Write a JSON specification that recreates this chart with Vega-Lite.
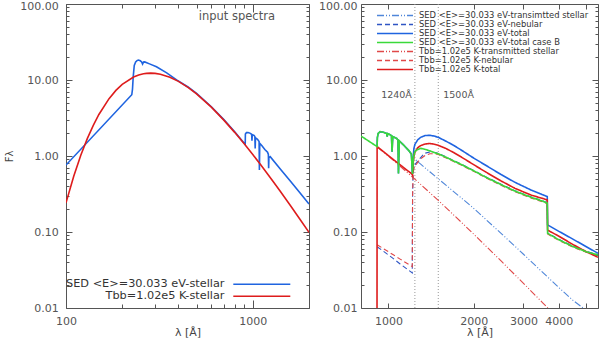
{
"$schema": "https://vega.github.io/schema/vega-lite/v6.json",
"background": "white",
"padding": {"left": 4, "top": 0, "right": 0, "bottom": 0},
"bounds": "flush",
"spacing": 52,
"config": {
  "view": {"stroke": null},
  "font": "DejaVu Sans",
  "axis": {"grid": false, "domainColor": "#555", "tickColor": "#555", "labelColor": "#555", "titleColor": "#444", "labelFont": "DejaVu Sans", "labelFontSize": 11, "titleFont": "DejaVu Sans", "titleFontWeight": "normal", "titleFontSize": 11, "labelOverlap": false, "labelFlush": false, "labelBound": false, "domainWidth": 1, "tickWidth": 1},
  "legend": {"labelFont": "DejaVu Sans", "labelColor": "#333"}
},
"datasets": {
  "note": [{"t": "input spectra"}],
  "vlines": [{"l": 1240, "t": "1240Å"}, {"l": 1500, "t": "1500Å"}],
  "left": [
    {"s":"SED <E>=30.033 eV-stellar","l":100,"f":0.76},
    {"s":"SED <E>=30.033 eV-stellar","l":225,"f":6.4},
    {"s":"SED <E>=30.033 eV-stellar","l":227,"f":7.6},
    {"s":"SED <E>=30.033 eV-stellar","l":229,"f":11},
    {"s":"SED <E>=30.033 eV-stellar","l":232,"f":15.5},
    {"s":"SED <E>=30.033 eV-stellar","l":236,"f":17.3},
    {"s":"SED <E>=30.033 eV-stellar","l":240,"f":18},
    {"s":"SED <E>=30.033 eV-stellar","l":244,"f":18.3},
    {"s":"SED <E>=30.033 eV-stellar","l":250,"f":17.9},
    {"s":"SED <E>=30.033 eV-stellar","l":254,"f":17.3},
    {"s":"SED <E>=30.033 eV-stellar","l":257,"f":16.2},
    {"s":"SED <E>=30.033 eV-stellar","l":260,"f":17.2},
    {"s":"SED <E>=30.033 eV-stellar","l":264,"f":17.3},
    {"s":"SED <E>=30.033 eV-stellar","l":280,"f":16.3},
    {"s":"SED <E>=30.033 eV-stellar","l":305,"f":14.9},
    {"s":"SED <E>=30.033 eV-stellar","l":346,"f":12.4},
    {"s":"SED <E>=30.033 eV-stellar","l":391,"f":10.05},
    {"s":"SED <E>=30.033 eV-stellar","l":450,"f":8.1},
    {"s":"SED <E>=30.033 eV-stellar","l":500,"f":6.65},
    {"s":"SED <E>=30.033 eV-stellar","l":600,"f":4.45},
    {"s":"SED <E>=30.033 eV-stellar","l":700,"f":3.01},
    {"s":"SED <E>=30.033 eV-stellar","l":800,"f":2.08},
    {"s":"SED <E>=30.033 eV-stellar","l":900,"f":1.47},
    {"s":"SED <E>=30.033 eV-stellar","l":911,"f":1.42},
    {"s":"SED <E>=30.033 eV-stellar","l":913,"f":1.95},
    {"s":"SED <E>=30.033 eV-stellar","l":925,"f":2.03},
    {"s":"SED <E>=30.033 eV-stellar","l":944,"f":2.04},
    {"s":"SED <E>=30.033 eV-stellar","l":965,"f":2.0},
    {"s":"SED <E>=30.033 eV-stellar","l":986,"f":1.93},
    {"s":"SED <E>=30.033 eV-stellar","l":990,"f":1.59},
    {"s":"SED <E>=30.033 eV-stellar","l":994,"f":1.91},
    {"s":"SED <E>=30.033 eV-stellar","l":1015,"f":1.87},
    {"s":"SED <E>=30.033 eV-stellar","l":1026,"f":1.8},
    {"s":"SED <E>=30.033 eV-stellar","l":1030,"f":1.26},
    {"s":"SED <E>=30.033 eV-stellar","l":1034,"f":1.74},
    {"s":"SED <E>=30.033 eV-stellar","l":1060,"f":1.66},
    {"s":"SED <E>=30.033 eV-stellar","l":1081,"f":1.55},
    {"s":"SED <E>=30.033 eV-stellar","l":1085,"f":0.655},
    {"s":"SED <E>=30.033 eV-stellar","l":1090,"f":1.47},
    {"s":"SED <E>=30.033 eV-stellar","l":1120,"f":1.36},
    {"s":"SED <E>=30.033 eV-stellar","l":1160,"f":1.22},
    {"s":"SED <E>=30.033 eV-stellar","l":1200,"f":1.12},
    {"s":"SED <E>=30.033 eV-stellar","l":1212,"f":1.05},
    {"s":"SED <E>=30.033 eV-stellar","l":1216,"f":0.69},
    {"s":"SED <E>=30.033 eV-stellar","l":1220,"f":0.95},
    {"s":"SED <E>=30.033 eV-stellar","l":1240,"f":0.98},
    {"s":"SED <E>=30.033 eV-stellar","l":1400,"f":0.68},
    {"s":"SED <E>=30.033 eV-stellar","l":1600,"f":0.457},
    {"s":"SED <E>=30.033 eV-stellar","l":1783,"f":0.33},
    {"s":"SED <E>=30.033 eV-stellar","l":2000,"f":0.234},
    {"s":"Tbb=1.02e5 K-stellar","l":100,"f":0.242},
    {"s":"Tbb=1.02e5 K-stellar","l":110,"f":0.542},
    {"s":"Tbb=1.02e5 K-stellar","l":120,"f":1.022},
    {"s":"Tbb=1.02e5 K-stellar","l":130,"f":1.692},
    {"s":"Tbb=1.02e5 K-stellar","l":140,"f":2.535},
    {"s":"Tbb=1.02e5 K-stellar","l":150,"f":3.516},
    {"s":"Tbb=1.02e5 K-stellar","l":170,"f":5.684},
    {"s":"Tbb=1.02e5 K-stellar","l":185,"f":7.3},
    {"s":"Tbb=1.02e5 K-stellar","l":200,"f":8.765},
    {"s":"Tbb=1.02e5 K-stellar","l":230,"f":10.95},
    {"s":"Tbb=1.02e5 K-stellar","l":245,"f":11.63},
    {"s":"Tbb=1.02e5 K-stellar","l":260,"f":12.07},
    {"s":"Tbb=1.02e5 K-stellar","l":270,"f":12.22},
    {"s":"Tbb=1.02e5 K-stellar","l":284,"f":12.3},
    {"s":"Tbb=1.02e5 K-stellar","l":300,"f":12.22},
    {"s":"Tbb=1.02e5 K-stellar","l":320,"f":11.91},
    {"s":"Tbb=1.02e5 K-stellar","l":360,"f":10.87},
    {"s":"Tbb=1.02e5 K-stellar","l":400,"f":9.59},
    {"s":"Tbb=1.02e5 K-stellar","l":450,"f":7.99},
    {"s":"Tbb=1.02e5 K-stellar","l":500,"f":6.563},
    {"s":"Tbb=1.02e5 K-stellar","l":600,"f":4.389},
    {"s":"Tbb=1.02e5 K-stellar","l":700,"f":2.966},
    {"s":"Tbb=1.02e5 K-stellar","l":800,"f":2.047},
    {"s":"Tbb=1.02e5 K-stellar","l":900,"f":1.447},
    {"s":"Tbb=1.02e5 K-stellar","l":1000,"f":1.046},
    {"s":"Tbb=1.02e5 K-stellar","l":1100,"f":0.772},
    {"s":"Tbb=1.02e5 K-stellar","l":1200,"f":0.5814},
    {"s":"Tbb=1.02e5 K-stellar","l":1300,"f":0.4454},
    {"s":"Tbb=1.02e5 K-stellar","l":1400,"f":0.3465},
    {"s":"Tbb=1.02e5 K-stellar","l":1600,"f":0.2184},
    {"s":"Tbb=1.02e5 K-stellar","l":1800,"f":0.1442},
    {"s":"Tbb=1.02e5 K-stellar","l":2000,"f":0.0988}
  ],
  "right": [
    {"s":"SED <E>=30.033 eV-transimtted stellar","l":912,"f":1.33},
    {"s":"SED <E>=30.033 eV-transimtted stellar","l":914,"f":1.75},
    {"s":"SED <E>=30.033 eV-transimtted stellar","l":920,"f":1.98},
    {"s":"SED <E>=30.033 eV-transimtted stellar","l":935,"f":2.09},
    {"s":"SED <E>=30.033 eV-transimtted stellar","l":960,"f":2.05},
    {"s":"SED <E>=30.033 eV-transimtted stellar","l":985,"f":1.98},
    {"s":"SED <E>=30.033 eV-transimtted stellar","l":990,"f":1.8},
    {"s":"SED <E>=30.033 eV-transimtted stellar","l":995,"f":1.97},
    {"s":"SED <E>=30.033 eV-transimtted stellar","l":1015,"f":1.9},
    {"s":"SED <E>=30.033 eV-transimtted stellar","l":1025,"f":1.85},
    {"s":"SED <E>=30.033 eV-transimtted stellar","l":1030,"f":1.14},
    {"s":"SED <E>=30.033 eV-transimtted stellar","l":1036,"f":1.8},
    {"s":"SED <E>=30.033 eV-transimtted stellar","l":1070,"f":1.7},
    {"s":"SED <E>=30.033 eV-transimtted stellar","l":1081,"f":1.62},
    {"s":"SED <E>=30.033 eV-transimtted stellar","l":1085,"f":0.59},
    {"s":"SED <E>=30.033 eV-transimtted stellar","l":1092,"f":1.58},
    {"s":"SED <E>=30.033 eV-transimtted stellar","l":1130,"f":1.4},
    {"s":"SED <E>=30.033 eV-transimtted stellar","l":1180,"f":1.18},
    {"s":"SED <E>=30.033 eV-transimtted stellar","l":1205,"f":1.06},
    {"s":"SED <E>=30.033 eV-transimtted stellar","l":1216,"f":0.58},
    {"s":"SED <E>=30.033 eV-transimtted stellar","l":1222,"f":0.8},
    {"s":"SED <E>=30.033 eV-transimtted stellar","l":1232,"f":0.92},
    {"s":"SED <E>=30.033 eV-transimtted stellar","l":1250,"f":0.9},
    {"s":"SED <E>=30.033 eV-transimtted stellar","l":1270,"f":0.84},
    {"s":"SED <E>=30.033 eV-transimtted stellar","l":1300,"f":0.78},
    {"s":"SED <E>=30.033 eV-transimtted stellar","l":1400,"f":0.62},
    {"s":"SED <E>=30.033 eV-transimtted stellar","l":1500,"f":0.5},
    {"s":"SED <E>=30.033 eV-transimtted stellar","l":1600,"f":0.41},
    {"s":"SED <E>=30.033 eV-transimtted stellar","l":1800,"f":0.285},
    {"s":"SED <E>=30.033 eV-transimtted stellar","l":2000,"f":0.205},
    {"s":"SED <E>=30.033 eV-transimtted stellar","l":2500,"f":0.096},
    {"s":"SED <E>=30.033 eV-transimtted stellar","l":3000,"f":0.051},
    {"s":"SED <E>=30.033 eV-transimtted stellar","l":3500,"f":0.0296},
    {"s":"SED <E>=30.033 eV-transimtted stellar","l":3933,"f":0.0197},
    {"s":"SED <E>=30.033 eV-transimtted stellar","l":4500,"f":0.0125},
    {"s":"SED <E>=30.033 eV-transimtted stellar","l":5000,"f":0.0093},
    {"s":"SED <E>=30.033 eV-transimtted stellar","l":5500,"f":0.007},
    {"s":"SED <E>=30.033 eV-nebular","l":912,"f":0.064},
    {"s":"SED <E>=30.033 eV-nebular","l":1000,"f":0.05},
    {"s":"SED <E>=30.033 eV-nebular","l":1100,"f":0.038},
    {"s":"SED <E>=30.033 eV-nebular","l":1214,"f":0.029},
    {"s":"SED <E>=30.033 eV-nebular","l":1217,"f":0.3},
    {"s":"SED <E>=30.033 eV-nebular","l":1222,"f":0.6},
    {"s":"SED <E>=30.033 eV-nebular","l":1229,"f":0.72},
    {"s":"SED <E>=30.033 eV-nebular","l":1250,"f":0.8},
    {"s":"SED <E>=30.033 eV-nebular","l":1270,"f":0.86},
    {"s":"SED <E>=30.033 eV-nebular","l":1300,"f":0.95},
    {"s":"SED <E>=30.033 eV-nebular","l":1342,"f":1.085},
    {"s":"SED <E>=30.033 eV-nebular","l":1400,"f":1.13},
    {"s":"SED <E>=30.033 eV-nebular","l":1450,"f":1.12},
    {"s":"SED <E>=30.033 eV-nebular","l":1500,"f":1.08},
    {"s":"SED <E>=30.033 eV-nebular","l":1600,"f":0.97},
    {"s":"SED <E>=30.033 eV-nebular","l":1700,"f":0.87},
    {"s":"SED <E>=30.033 eV-nebular","l":1800,"f":0.79},
    {"s":"SED <E>=30.033 eV-nebular","l":2000,"f":0.645},
    {"s":"SED <E>=30.033 eV-nebular","l":2200,"f":0.535},
    {"s":"SED <E>=30.033 eV-nebular","l":2500,"f":0.425},
    {"s":"SED <E>=30.033 eV-nebular","l":2800,"f":0.349},
    {"s":"SED <E>=30.033 eV-nebular","l":3200,"f":0.288},
    {"s":"SED <E>=30.033 eV-nebular","l":3500,"f":0.258},
    {"s":"SED <E>=30.033 eV-nebular","l":3640,"f":0.243},
    {"s":"SED <E>=30.033 eV-nebular","l":3650,"f":0.097},
    {"s":"SED <E>=30.033 eV-nebular","l":4000,"f":0.08},
    {"s":"SED <E>=30.033 eV-nebular","l":4500,"f":0.065},
    {"s":"SED <E>=30.033 eV-nebular","l":5000,"f":0.0555},
    {"s":"SED <E>=30.033 eV-nebular","l":5500,"f":0.0503},
    {"s":"Tbb=1.02e5 K-transmitted stellar","l":912,"f":1.32},
    {"s":"Tbb=1.02e5 K-transmitted stellar","l":1000,"f":0.994},
    {"s":"Tbb=1.02e5 K-transmitted stellar","l":1100,"f":0.734},
    {"s":"Tbb=1.02e5 K-transmitted stellar","l":1200,"f":0.552},
    {"s":"Tbb=1.02e5 K-transmitted stellar","l":1300,"f":0.423},
    {"s":"Tbb=1.02e5 K-transmitted stellar","l":1400,"f":0.329},
    {"s":"Tbb=1.02e5 K-transmitted stellar","l":1500,"f":0.26},
    {"s":"Tbb=1.02e5 K-transmitted stellar","l":1600,"f":0.2075},
    {"s":"Tbb=1.02e5 K-transmitted stellar","l":1800,"f":0.137},
    {"s":"Tbb=1.02e5 K-transmitted stellar","l":2000,"f":0.0939},
    {"s":"Tbb=1.02e5 K-transmitted stellar","l":2500,"f":0.0416},
    {"s":"Tbb=1.02e5 K-transmitted stellar","l":3000,"f":0.0211},
    {"s":"Tbb=1.02e5 K-transmitted stellar","l":3500,"f":0.0118},
    {"s":"Tbb=1.02e5 K-transmitted stellar","l":4000,"f":0.0071},
    {"s":"Tbb=1.02e5 K-nebular","l":912,"f":0.068},
    {"s":"Tbb=1.02e5 K-nebular","l":1000,"f":0.055},
    {"s":"Tbb=1.02e5 K-nebular","l":1100,"f":0.044},
    {"s":"Tbb=1.02e5 K-nebular","l":1214,"f":0.035},
    {"s":"Tbb=1.02e5 K-nebular","l":1217,"f":0.3},
    {"s":"Tbb=1.02e5 K-nebular","l":1222,"f":0.55},
    {"s":"Tbb=1.02e5 K-nebular","l":1229,"f":0.68},
    {"s":"Tbb=1.02e5 K-nebular","l":1250,"f":0.76},
    {"s":"Tbb=1.02e5 K-nebular","l":1270,"f":0.83},
    {"s":"Tbb=1.02e5 K-nebular","l":1300,"f":0.92},
    {"s":"Tbb=1.02e5 K-nebular","l":1350,"f":1.02},
    {"s":"Tbb=1.02e5 K-nebular","l":1400,"f":1.07},
    {"s":"Tbb=1.02e5 K-nebular","l":1450,"f":1.07},
    {"s":"Tbb=1.02e5 K-nebular","l":1500,"f":1.05},
    {"s":"Tbb=1.02e5 K-nebular","l":1600,"f":0.94},
    {"s":"Tbb=1.02e5 K-nebular","l":1700,"f":0.845},
    {"s":"Tbb=1.02e5 K-nebular","l":1800,"f":0.765},
    {"s":"Tbb=1.02e5 K-nebular","l":2000,"f":0.628},
    {"s":"Tbb=1.02e5 K-nebular","l":2200,"f":0.52},
    {"s":"Tbb=1.02e5 K-nebular","l":2500,"f":0.412},
    {"s":"Tbb=1.02e5 K-nebular","l":2800,"f":0.338},
    {"s":"Tbb=1.02e5 K-nebular","l":3200,"f":0.279},
    {"s":"Tbb=1.02e5 K-nebular","l":3500,"f":0.25},
    {"s":"Tbb=1.02e5 K-nebular","l":3640,"f":0.235},
    {"s":"Tbb=1.02e5 K-nebular","l":3650,"f":0.094},
    {"s":"Tbb=1.02e5 K-nebular","l":4000,"f":0.0775},
    {"s":"Tbb=1.02e5 K-nebular","l":4500,"f":0.0628},
    {"s":"Tbb=1.02e5 K-nebular","l":5000,"f":0.054},
    {"s":"Tbb=1.02e5 K-nebular","l":5500,"f":0.0488},
    {"s":"SED <E>=30.033 eV-total","l":912,"f":1.33},
    {"s":"SED <E>=30.033 eV-total","l":914,"f":1.75},
    {"s":"SED <E>=30.033 eV-total","l":920,"f":1.98},
    {"s":"SED <E>=30.033 eV-total","l":935,"f":2.09},
    {"s":"SED <E>=30.033 eV-total","l":960,"f":2.05},
    {"s":"SED <E>=30.033 eV-total","l":985,"f":1.98},
    {"s":"SED <E>=30.033 eV-total","l":990,"f":1.8},
    {"s":"SED <E>=30.033 eV-total","l":995,"f":1.97},
    {"s":"SED <E>=30.033 eV-total","l":1015,"f":1.9},
    {"s":"SED <E>=30.033 eV-total","l":1025,"f":1.85},
    {"s":"SED <E>=30.033 eV-total","l":1030,"f":1.14},
    {"s":"SED <E>=30.033 eV-total","l":1036,"f":1.8},
    {"s":"SED <E>=30.033 eV-total","l":1070,"f":1.7},
    {"s":"SED <E>=30.033 eV-total","l":1081,"f":1.62},
    {"s":"SED <E>=30.033 eV-total","l":1085,"f":0.59},
    {"s":"SED <E>=30.033 eV-total","l":1092,"f":1.58},
    {"s":"SED <E>=30.033 eV-total","l":1130,"f":1.4},
    {"s":"SED <E>=30.033 eV-total","l":1180,"f":1.18},
    {"s":"SED <E>=30.033 eV-total","l":1205,"f":1.06},
    {"s":"SED <E>=30.033 eV-total","l":1216,"f":0.58},
    {"s":"SED <E>=30.033 eV-total","l":1222,"f":0.9},
    {"s":"SED <E>=30.033 eV-total","l":1230,"f":1.25},
    {"s":"SED <E>=30.033 eV-total","l":1240,"f":1.42},
    {"s":"SED <E>=30.033 eV-total","l":1270,"f":1.64},
    {"s":"SED <E>=30.033 eV-total","l":1300,"f":1.76},
    {"s":"SED <E>=30.033 eV-total","l":1350,"f":1.86},
    {"s":"SED <E>=30.033 eV-total","l":1400,"f":1.87},
    {"s":"SED <E>=30.033 eV-total","l":1450,"f":1.83},
    {"s":"SED <E>=30.033 eV-total","l":1500,"f":1.76},
    {"s":"SED <E>=30.033 eV-total","l":1600,"f":1.56},
    {"s":"SED <E>=30.033 eV-total","l":1700,"f":1.38},
    {"s":"SED <E>=30.033 eV-total","l":1800,"f":1.21},
    {"s":"SED <E>=30.033 eV-total","l":2000,"f":0.94},
    {"s":"SED <E>=30.033 eV-total","l":2200,"f":0.76},
    {"s":"SED <E>=30.033 eV-total","l":2500,"f":0.57},
    {"s":"SED <E>=30.033 eV-total","l":2800,"f":0.45},
    {"s":"SED <E>=30.033 eV-total","l":3200,"f":0.355},
    {"s":"SED <E>=30.033 eV-total","l":3500,"f":0.31},
    {"s":"SED <E>=30.033 eV-total","l":3640,"f":0.292},
    {"s":"SED <E>=30.033 eV-total","l":3650,"f":0.124},
    {"s":"SED <E>=30.033 eV-total","l":4000,"f":0.102},
    {"s":"SED <E>=30.033 eV-total","l":4500,"f":0.08},
    {"s":"SED <E>=30.033 eV-total","l":5000,"f":0.064},
    {"s":"SED <E>=30.033 eV-total","l":5500,"f":0.0525},
    {"s":"Tbb=1.02e5 K-total","l":800,"f":0.001},
    {"s":"Tbb=1.02e5 K-total","l":911,"f":0.001},
    {"s":"Tbb=1.02e5 K-total","l":912,"f":1.33},
    {"s":"Tbb=1.02e5 K-total","l":1000,"f":1.01},
    {"s":"Tbb=1.02e5 K-total","l":1100,"f":0.765},
    {"s":"Tbb=1.02e5 K-total","l":1210,"f":0.58},
    {"s":"Tbb=1.02e5 K-total","l":1216,"f":0.56},
    {"s":"Tbb=1.02e5 K-total","l":1222,"f":0.78},
    {"s":"Tbb=1.02e5 K-total","l":1230,"f":1.0},
    {"s":"Tbb=1.02e5 K-total","l":1240,"f":1.12},
    {"s":"Tbb=1.02e5 K-total","l":1270,"f":1.29},
    {"s":"Tbb=1.02e5 K-total","l":1300,"f":1.37},
    {"s":"Tbb=1.02e5 K-total","l":1350,"f":1.44},
    {"s":"Tbb=1.02e5 K-total","l":1400,"f":1.46},
    {"s":"Tbb=1.02e5 K-total","l":1450,"f":1.43},
    {"s":"Tbb=1.02e5 K-total","l":1500,"f":1.38},
    {"s":"Tbb=1.02e5 K-total","l":1600,"f":1.25},
    {"s":"Tbb=1.02e5 K-total","l":1700,"f":1.11},
    {"s":"Tbb=1.02e5 K-total","l":1800,"f":0.98},
    {"s":"Tbb=1.02e5 K-total","l":2000,"f":0.77},
    {"s":"Tbb=1.02e5 K-total","l":2200,"f":0.62},
    {"s":"Tbb=1.02e5 K-total","l":2500,"f":0.47},
    {"s":"Tbb=1.02e5 K-total","l":2800,"f":0.375},
    {"s":"Tbb=1.02e5 K-total","l":3200,"f":0.305},
    {"s":"Tbb=1.02e5 K-total","l":3500,"f":0.277},
    {"s":"Tbb=1.02e5 K-total","l":3640,"f":0.264},
    {"s":"Tbb=1.02e5 K-total","l":3650,"f":0.106},
    {"s":"Tbb=1.02e5 K-total","l":4000,"f":0.088},
    {"s":"Tbb=1.02e5 K-total","l":4500,"f":0.068},
    {"s":"Tbb=1.02e5 K-total","l":5000,"f":0.055},
    {"s":"Tbb=1.02e5 K-total","l":5500,"f":0.0465},
    {"s":"SED <E>=30.033 eV-total case B","l":800,"f":1.83},
    {"s":"SED <E>=30.033 eV-total case B","l":912,"f":1.33},
    {"s":"SED <E>=30.033 eV-total case B","l":914,"f":1.75},
    {"s":"SED <E>=30.033 eV-total case B","l":920,"f":1.98},
    {"s":"SED <E>=30.033 eV-total case B","l":935,"f":2.09},
    {"s":"SED <E>=30.033 eV-total case B","l":960,"f":2.05},
    {"s":"SED <E>=30.033 eV-total case B","l":985,"f":1.98},
    {"s":"SED <E>=30.033 eV-total case B","l":990,"f":1.8},
    {"s":"SED <E>=30.033 eV-total case B","l":995,"f":1.97},
    {"s":"SED <E>=30.033 eV-total case B","l":1015,"f":1.9},
    {"s":"SED <E>=30.033 eV-total case B","l":1025,"f":1.85},
    {"s":"SED <E>=30.033 eV-total case B","l":1030,"f":1.14},
    {"s":"SED <E>=30.033 eV-total case B","l":1036,"f":1.8},
    {"s":"SED <E>=30.033 eV-total case B","l":1070,"f":1.7},
    {"s":"SED <E>=30.033 eV-total case B","l":1081,"f":1.62},
    {"s":"SED <E>=30.033 eV-total case B","l":1085,"f":0.59},
    {"s":"SED <E>=30.033 eV-total case B","l":1092,"f":1.58},
    {"s":"SED <E>=30.033 eV-total case B","l":1130,"f":1.4},
    {"s":"SED <E>=30.033 eV-total case B","l":1180,"f":1.18},
    {"s":"SED <E>=30.033 eV-total case B","l":1205,"f":1.06},
    {"s":"SED <E>=30.033 eV-total case B","l":1216,"f":0.58},
    {"s":"SED <E>=30.033 eV-total case B","l":1225,"f":0.95},
    {"s":"SED <E>=30.033 eV-total case B","l":1240,"f":1.15},
    {"s":"SED <E>=30.033 eV-total case B","l":1270,"f":1.22},
    {"s":"SED <E>=30.033 eV-total case B","l":1300,"f":1.26},
    {"s":"SED <E>=30.033 eV-total case B","l":1350,"f":1.22},
    {"s":"SED <E>=30.033 eV-total case B","l":1400,"f":1.17},
    {"s":"SED <E>=30.033 eV-total case B","l":1450,"f":1.11},
    {"s":"SED <E>=30.033 eV-total case B","l":1500,"f":1.07},
    {"s":"SED <E>=30.033 eV-total case B","l":1600,"f":0.96},
    {"s":"SED <E>=30.033 eV-total case B","l":1700,"f":0.86},
    {"s":"SED <E>=30.033 eV-total case B","l":1800,"f":0.78},
    {"s":"SED <E>=30.033 eV-total case B","l":2000,"f":0.64},
    {"s":"SED <E>=30.033 eV-total case B","l":2200,"f":0.53},
    {"s":"SED <E>=30.033 eV-total case B","l":2500,"f":0.42},
    {"s":"SED <E>=30.033 eV-total case B","l":2800,"f":0.345},
    {"s":"SED <E>=30.033 eV-total case B","l":3200,"f":0.285},
    {"s":"SED <E>=30.033 eV-total case B","l":3500,"f":0.255},
    {"s":"SED <E>=30.033 eV-total case B","l":3640,"f":0.24},
    {"s":"SED <E>=30.033 eV-total case B","l":3650,"f":0.096},
    {"s":"SED <E>=30.033 eV-total case B","l":4000,"f":0.079},
    {"s":"SED <E>=30.033 eV-total case B","l":4500,"f":0.064},
    {"s":"SED <E>=30.033 eV-total case B","l":5000,"f":0.055},
    {"s":"SED <E>=30.033 eV-total case B","l":5500,"f":0.0498}
  ]
},
"resolve": {"scale": {"color": "independent", "strokeDash": "independent"}},
"hconcat": [
  {
    "width": 243, "height": 304,
    "layer": [
      {
        "data": {"name": "left"},
        "mark": {"type": "line", "strokeWidth": 1.6, "clip": true},
        "encoding": {
          "x": {"field": "l", "type": "quantitative", "scale": {"type": "log", "domain": [100, 2000], "nice": false},
                "axis": {"orient": "bottom", "values": [100,200,300,400,500,600,700,800,900,1000,2000], "labelExpr": "(datum.value==100||datum.value==1000) ? format(datum.value,'d') : ''", "tickSize": {"condition": {"test": "datum.value==100||datum.value==1000", "value": -8}, "value": -4}, "labelPadding": 15, "title": "λ [Å]", "titlePadding": -4}},
          "y": {"field": "f", "type": "quantitative", "scale": {"type": "log", "domain": [0.01, 100], "nice": false},
                "axis": {"orient": "left", "values": [0.01,0.02,0.03,0.04,0.05,0.06,0.07,0.08,0.09,0.1,0.2,0.3,0.4,0.5,0.6,0.7,0.8,0.9,1,2,3,4,5,6,7,8,9,10,20,30,40,50,60,70,80,90,100], "labelExpr": "(datum.value==0.01||datum.value==0.1||datum.value==1||datum.value==10||datum.value==100) ? format(datum.value,'.2f') : ''", "tickSize": {"condition": {"test": "datum.value==0.01||datum.value==0.1||datum.value==1||datum.value==10||datum.value==100", "value": -6}, "value": -3}, "labelOffset": {"condition": {"test": "datum.value==100", "value": 2}, "value": 0}, "labelPadding": 13.7, "title": "Fλ", "titleFontSize": 10, "titleX": -52, "titleY": 152, "titleAngle": 270, "titleAlign": "center", "titleBaseline": "bottom"}},
          "color": {"field": "s", "type": "nominal", "scale": {"domain": ["SED <E>=30.033 eV-stellar", "Tbb=1.02e5 K-stellar"], "range": ["#1f64e0", "#de1c1c"]},
                    "legend": {"orient": "none", "legendX": 189.3, "legendY": 273.8, "title": null, "symbolType": "M-5,0H5", "symbolSize": 130, "symbolStrokeWidth": 1.5, "rowPadding": -5.6, "labelAlign": "right", "labelOffset": -43.8, "labelFontSize": 11.3, "labelColor": "#333", "padding": 0, "labelLimit": 300}}
        }
      },
      {
        "data": {"name": "left"},
        "mark": {"type": "line", "opacity": 0},
        "encoding": {
          "x": {"field": "l", "type": "quantitative", "scale": {"type": "log", "domain": [100, 2000], "nice": false},
                "axis": {"orient": "top", "values": [100,200,300,400,500,600,700,800,900,1000,2000], "labels": false, "tickSize": {"condition": {"test": "datum.value==100||datum.value==1000", "value": -8}, "value": -4}, "title": null}},
          "y": {"field": "f", "type": "quantitative", "scale": {"type": "log", "domain": [0.01, 100], "nice": false},
                "axis": {"orient": "right", "values": [0.01,0.02,0.03,0.04,0.05,0.06,0.07,0.08,0.09,0.1,0.2,0.3,0.4,0.5,0.6,0.7,0.8,0.9,1,2,3,4,5,6,7,8,9,10,20,30,40,50,60,70,80,90,100], "labels": false, "tickSize": {"condition": {"test": "datum.value==0.01||datum.value==0.1||datum.value==1||datum.value==10||datum.value==100", "value": -6}, "value": -3}, "title": null}},
          "detail": {"field": "s"}
        }
      },
      {
        "data": {"name": "note"},
        "mark": {"type": "text", "align": "right", "baseline": "middle", "fontSize": 11.5, "color": "#555"},
        "encoding": {
          "x": {"datum": 1315, "type": "quantitative", "scale": {"type": "log", "domain": [100, 2000], "nice": false}, "axis": null},
          "y": {"datum": 68, "type": "quantitative", "scale": {"type": "log", "domain": [0.01, 100], "nice": false}, "axis": null},
          "text": {"field": "t"}
        }
      }
    ],
    "resolve": {"axis": {"x": "independent", "y": "independent"}}
  },
  {
    "width": 237, "height": 304,
    "layer": [
      {
        "data": {"name": "vlines"},
        "mark": {"type": "rule", "strokeDash": [1, 2], "color": "#999", "strokeWidth": 1},
        "encoding": {
          "x": {"field": "l", "type": "quantitative", "scale": {"type": "log", "domain": [800, 5500], "nice": false}, "axis": null}
        }
      },
      {
        "data": {"name": "right"},
        "transform": [{"filter": "indexof(datum.s,'total')<0"}],
        "mark": {"type": "line", "strokeWidth": 1.1, "clip": true},
        "encoding": {
          "x": {"field": "l", "type": "quantitative", "scale": {"type": "log", "domain": [800, 5500], "nice": false},
                "axis": {"orient": "bottom", "values": [1000,2000,3000,4000,5000], "labelExpr": "datum.value<5000 ? format(datum.value,'d') : ''", "tickSize": -5, "labelPadding": 12, "title": "λ [Å]", "titlePadding": 0.5}},
          "y": {"field": "f", "type": "quantitative", "scale": {"type": "log", "domain": [0.01, 100], "nice": false},
                "axis": {"orient": "left", "values": [0.01,0.02,0.03,0.04,0.05,0.06,0.07,0.08,0.09,0.1,0.2,0.3,0.4,0.5,0.6,0.7,0.8,0.9,1,2,3,4,5,6,7,8,9,10,20,30,40,50,60,70,80,90,100], "labelExpr": "(datum.value==0.01||datum.value==0.1||datum.value==1||datum.value==10||datum.value==100) ? format(datum.value,'.2f') : ''", "tickSize": {"condition": {"test": "datum.value==0.01||datum.value==0.1||datum.value==1||datum.value==10||datum.value==100", "value": -6}, "value": -3}, "labelOffset": {"condition": {"test": "datum.value==100", "value": 2}, "value": 0}, "labelPadding": 10, "title": null}},
          "color": {"field": "s", "type": "nominal", "scale": {"domain": ["SED <E>=30.033 eV-transimtted stellar", "SED <E>=30.033 eV-nebular", "SED <E>=30.033 eV-total", "SED <E>=30.033 eV-total case B", "Tbb=1.02e5 K-transmitted stellar", "Tbb=1.02e5 K-nebular", "Tbb=1.02e5 K-total"], "range": ["#4f86d9", "#2f55c4", "#1f64e0", "#3ad93a", "#e04848", "#e04848", "#de1c1c"]},
                    "legend": {"orient": "none", "legendX": 15, "legendY": 7.6, "title": null, "symbolType": "stroke", "symbolSize": 1296, "symbolStrokeWidth": 1.3, "clipHeight": 7.75, "rowPadding": -4.9, "labelOffset": 5, "labelFontSize": 8.4, "labelColor": "#333", "padding": 0, "labelLimit": 300}},
          "strokeDash": {"field": "s", "type": "nominal", "scale": {"domain": ["SED <E>=30.033 eV-transimtted stellar", "SED <E>=30.033 eV-nebular", "SED <E>=30.033 eV-total", "SED <E>=30.033 eV-total case B", "Tbb=1.02e5 K-transmitted stellar", "Tbb=1.02e5 K-nebular", "Tbb=1.02e5 K-total"], "range": [[7,2,1,2,1,2], [5,3], [1,0], [1,0], [7,2,1,2,1,2], [5,3], [1,0]]},
                    "legend": {"orient": "none", "legendX": 15, "legendY": 7.6, "title": null, "symbolType": "stroke", "symbolSize": 1296, "symbolStrokeWidth": 1.3, "clipHeight": 7.75, "rowPadding": -4.9, "labelOffset": 5, "labelFontSize": 8.4, "labelColor": "#333", "padding": 0, "labelLimit": 300}}
        }
      },
      {
        "data": {"name": "right"},
        "transform": [{"filter": "indexof(datum.s,'total')>=0"}],
        "mark": {"type": "line", "strokeWidth": 1.6, "clip": true},
        "encoding": {
          "x": {"field": "l", "type": "quantitative", "scale": {"type": "log", "domain": [800, 5500], "nice": false}, "axis": null},
          "y": {"field": "f", "type": "quantitative", "scale": {"type": "log", "domain": [0.01, 100], "nice": false}, "axis": null},
          "color": {"field": "s", "type": "nominal", "scale": {"domain": ["SED <E>=30.033 eV-transimtted stellar", "SED <E>=30.033 eV-nebular", "SED <E>=30.033 eV-total", "SED <E>=30.033 eV-total case B", "Tbb=1.02e5 K-transmitted stellar", "Tbb=1.02e5 K-nebular", "Tbb=1.02e5 K-total"], "range": ["#4f86d9", "#2f55c4", "#1f64e0", "#3ad93a", "#e04848", "#e04848", "#de1c1c"]},
                    "legend": {"orient": "none", "legendX": 15, "legendY": 7.6, "title": null, "symbolType": "stroke", "symbolSize": 1296, "symbolStrokeWidth": 1.3, "clipHeight": 7.75, "rowPadding": -4.9, "labelOffset": 5, "labelFontSize": 8.4, "labelColor": "#333", "padding": 0, "labelLimit": 300}},
          "strokeDash": {"field": "s", "type": "nominal", "scale": {"domain": ["SED <E>=30.033 eV-transimtted stellar", "SED <E>=30.033 eV-nebular", "SED <E>=30.033 eV-total", "SED <E>=30.033 eV-total case B", "Tbb=1.02e5 K-transmitted stellar", "Tbb=1.02e5 K-nebular", "Tbb=1.02e5 K-total"], "range": [[7,2,1,2,1,2], [5,3], [1,0], [1,0], [7,2,1,2,1,2], [5,3], [1,0]]},
                    "legend": {"orient": "none", "legendX": 15, "legendY": 7.6, "title": null, "symbolType": "stroke", "symbolSize": 1296, "symbolStrokeWidth": 1.3, "clipHeight": 7.75, "rowPadding": -4.9, "labelOffset": 5, "labelFontSize": 8.4, "labelColor": "#333", "padding": 0, "labelLimit": 300}}
        }
      },
      {
        "data": {"name": "right"},
        "mark": {"type": "line", "opacity": 0},
        "encoding": {
          "x": {"field": "l", "type": "quantitative", "scale": {"type": "log", "domain": [800, 5500], "nice": false},
                "axis": {"orient": "top", "values": [1000,2000,3000,4000,5000], "labels": false, "tickSize": -5, "title": null}},
          "y": {"field": "f", "type": "quantitative", "scale": {"type": "log", "domain": [0.01, 100], "nice": false},
                "axis": {"orient": "right", "values": [0.01,0.02,0.03,0.04,0.05,0.06,0.07,0.08,0.09,0.1,0.2,0.3,0.4,0.5,0.6,0.7,0.8,0.9,1,2,3,4,5,6,7,8,9,10,20,30,40,50,60,70,80,90,100], "labels": false, "tickSize": {"condition": {"test": "datum.value==0.01||datum.value==0.1||datum.value==1||datum.value==10||datum.value==100", "value": -6}, "value": -3}, "title": null}},
          "detail": {"field": "s"}
        }
      },
      {
        "data": {"name": "vlines"},
        "transform": [{"filter": "datum.l==1240"}],
        "mark": {"type": "text", "align": "right", "baseline": "middle", "dx": -3, "fontSize": 9.5, "color": "#555"},
        "encoding": {
          "x": {"field": "l", "type": "quantitative", "scale": {"type": "log", "domain": [800, 5500], "nice": false}, "axis": null},
          "y": {"datum": 6.35, "type": "quantitative", "scale": {"type": "log", "domain": [0.01, 100], "nice": false}, "axis": null},
          "text": {"field": "t"}
        }
      },
      {
        "data": {"name": "vlines"},
        "transform": [{"filter": "datum.l==1500"}],
        "mark": {"type": "text", "align": "left", "baseline": "middle", "dx": 5, "fontSize": 9.5, "color": "#555"},
        "encoding": {
          "x": {"field": "l", "type": "quantitative", "scale": {"type": "log", "domain": [800, 5500], "nice": false}, "axis": null},
          "y": {"datum": 6.35, "type": "quantitative", "scale": {"type": "log", "domain": [0.01, 100], "nice": false}, "axis": null},
          "text": {"field": "t"}
        }
      }
    ],
    "resolve": {"axis": {"x": "independent", "y": "independent"}}
  }
]
}
